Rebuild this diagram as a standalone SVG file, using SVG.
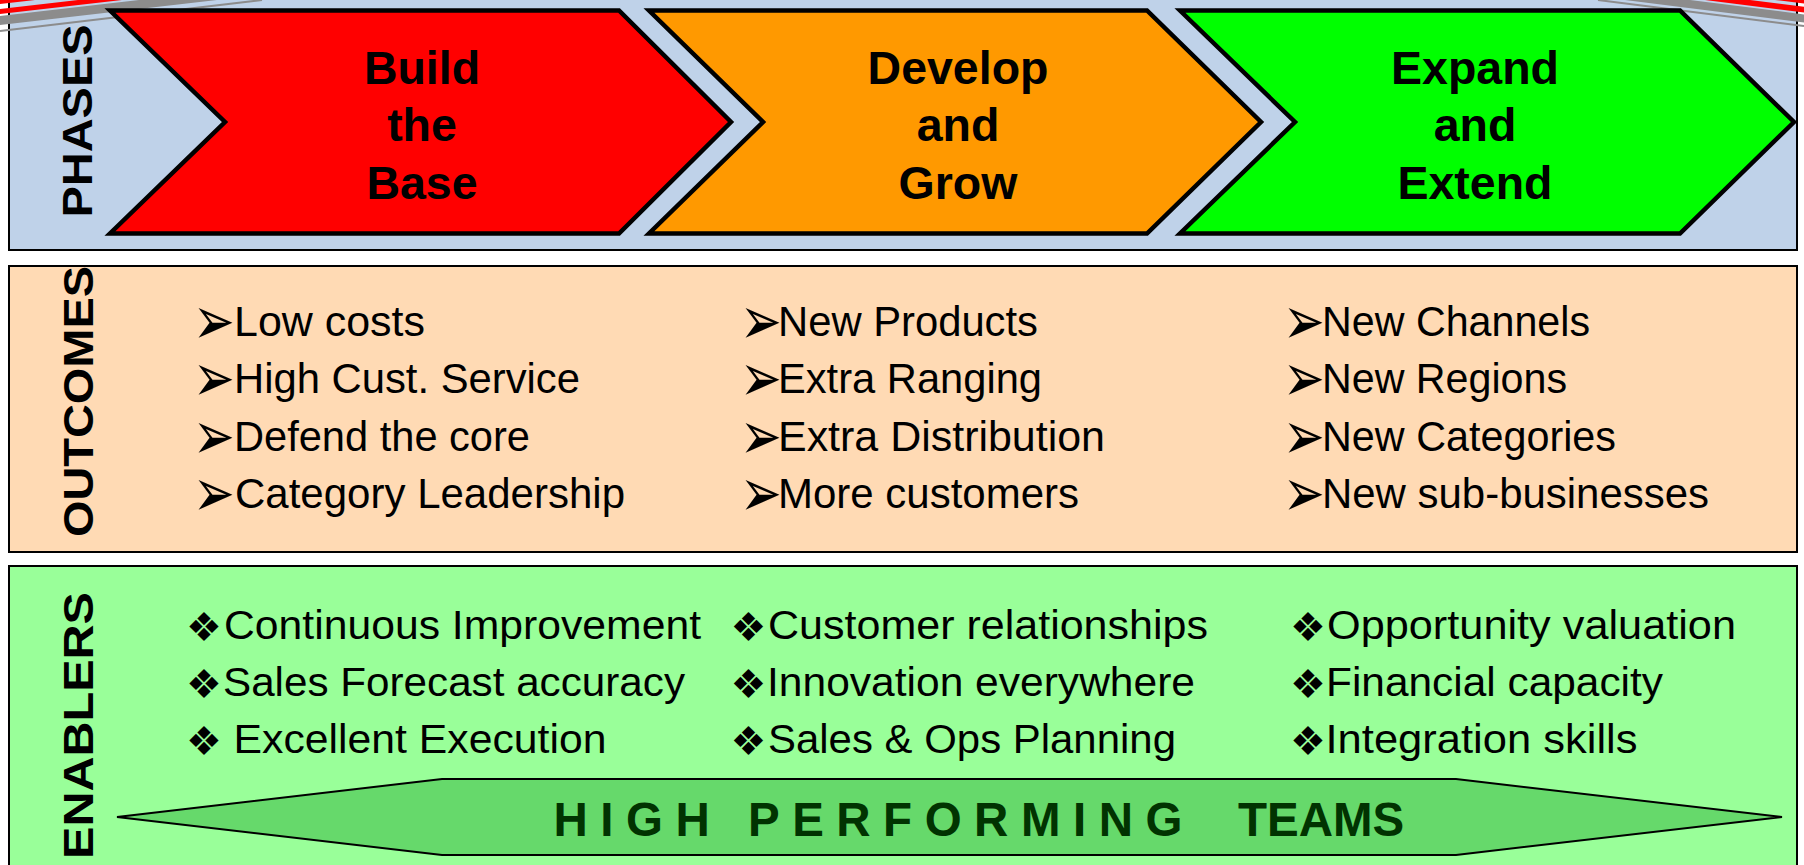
<svg xmlns="http://www.w3.org/2000/svg" width="1804" height="865" viewBox="0 0 1804 865">
  <style>
    .panel { stroke: #000; stroke-width: 2; }
    .chev { stroke: #000; stroke-width: 4.5; stroke-linejoin: miter; }
    .phase { font-family: "Liberation Sans", Arial, sans-serif; font-weight: bold; font-size: 46.5px; text-anchor: middle; fill: #000; }
    .side { font-family: "Liberation Sans", Arial, sans-serif; font-weight: bold; font-size: 43px; text-anchor: middle; fill: #000; }
    .out { font-family: "Liberation Sans", Arial, sans-serif; font-size: 43px; fill: #000; }
    .en { font-family: "Liberation Sans", Arial, sans-serif; font-size: 41px; fill: #000; }
    .arrow { font-family: "DejaVu Sans", sans-serif; font-size: 50px; text-anchor: middle; fill: #000; }
    .dia { font-family: "DejaVu Sans", sans-serif; font-size: 40px; text-anchor: middle; fill: #000; }
    .team { font-family: "Liberation Sans", Arial, sans-serif; font-weight: bold; font-size: 47.5px; fill: #013301; }
  </style>
  <defs>
    <!-- list bullet, centred on its origin -->
    <text id="arrow-bullet" class="arrow" x="0" y="18" transform="scale(1,1.35)">➢</text>
  </defs>

  <rect width="1804" height="865" fill="#ffffff"/>

  <!-- band backgrounds -->
  <g id="phases-panel">
    <rect class="panel" x="9" y="-1" width="1788" height="251" fill="#BFD2E9"/>
    <text class="side" transform="translate(92,121) rotate(-90)" textLength="193" lengthAdjust="spacingAndGlyphs">PHASES</text>
  </g>

  <g id="outcomes-panel">
    <rect class="panel" x="9" y="266" width="1788" height="286" fill="#FFDAB4"/>
    <text class="side" transform="translate(93,401.5) rotate(-90)" textLength="271" lengthAdjust="spacingAndGlyphs">OUTCOMES</text>
  </g>

  <g id="enablers-panel">
    <rect class="panel" x="9" y="566" width="1788" height="310" fill="#99FF99"/>
    <text class="side" transform="translate(93,725.5) rotate(-90)" textLength="267" lengthAdjust="spacingAndGlyphs">ENABLERS</text>
  </g>

  <!-- slide corner decoration -->
  <g id="corner-stripes">
    <polygon points="0,16 0,25 217,0 139,0" fill="#8c8c8c"/>
    <line x1="0" y1="31" x2="262" y2="0" stroke="#8c8c8c" stroke-width="2"/>
    <polygon points="0,9 0,14 122,0 78,0" fill="#ff0000"/>
    <polygon points="0,0 0,4 35,0" fill="#ff0000"/>
    <polygon points="1625,0 1690,0 1804,14.4 1804,22.4" fill="#8c8c8c"/>
    <line x1="1598" y1="0" x2="1804" y2="26" stroke="#8c8c8c" stroke-width="2"/>
    <polygon points="1705,0 1750,0 1804,6.8 1804,12.4" fill="#ff0000"/>
    <polygon points="1775,0 1804,0 1804,3.6" fill="#ff0000"/>
  </g>

  <!-- phase chevrons -->
  <g id="phase-build">
    <polygon class="chev" fill="#FF0000" points="110,10.5 619,10.5 731,122 619,233.5 110,233.5 225,122"/>
    <text class="phase" x="422" y="83.5">Build</text>
    <text class="phase" x="422" y="141">the</text>
    <text class="phase" x="422" y="198.5">Base</text>
  </g>

  <g id="phase-develop">
    <polygon class="chev" fill="#FF9900" points="649,10.5 1147,10.5 1261,122 1147,233.5 649,233.5 763,122"/>
    <text class="phase" x="958" y="83.5">Develop</text>
    <text class="phase" x="958" y="141">and</text>
    <text class="phase" x="958" y="198.5">Grow</text>
  </g>

  <g id="phase-expand">
    <polygon class="chev" fill="#00FF00" points="1180,10.5 1680,10.5 1794,122 1680,233.5 1180,233.5 1295,122"/>
    <text class="phase" x="1475" y="83.5">Expand</text>
    <text class="phase" x="1475" y="141">and</text>
    <text class="phase" x="1475" y="198.5">Extend</text>
  </g>

  <!-- outcome lists -->
  <g id="outcomes-base">
    <use href="#arrow-bullet" x="214" y="320"/>
    <use href="#arrow-bullet" x="214" y="377"/>
    <use href="#arrow-bullet" x="214" y="435"/>
    <use href="#arrow-bullet" x="214" y="492"/>
    <text class="out" x="234" y="336" textLength="191" lengthAdjust="spacingAndGlyphs">Low costs</text>
    <text class="out" x="234" y="393" textLength="346" lengthAdjust="spacingAndGlyphs">High Cust. Service</text>
    <text class="out" x="234" y="451" textLength="296" lengthAdjust="spacingAndGlyphs">Defend the core</text>
    <text class="out" x="235" y="508" textLength="390" lengthAdjust="spacingAndGlyphs">Category Leadership</text>
  </g>

  <g id="outcomes-grow">
    <use href="#arrow-bullet" x="761" y="320"/>
    <use href="#arrow-bullet" x="761" y="377"/>
    <use href="#arrow-bullet" x="761" y="435"/>
    <use href="#arrow-bullet" x="761" y="492"/>
    <text class="out" x="778" y="336" textLength="260" lengthAdjust="spacingAndGlyphs">New Products</text>
    <text class="out" x="778" y="393" textLength="264" lengthAdjust="spacingAndGlyphs">Extra Ranging</text>
    <text class="out" x="778" y="451" textLength="327" lengthAdjust="spacingAndGlyphs">Extra Distribution</text>
    <text class="out" x="778" y="508" textLength="301" lengthAdjust="spacingAndGlyphs">More customers</text>
  </g>

  <g id="outcomes-extend">
    <use href="#arrow-bullet" x="1304" y="320"/>
    <use href="#arrow-bullet" x="1304" y="377"/>
    <use href="#arrow-bullet" x="1304" y="435"/>
    <use href="#arrow-bullet" x="1304" y="492"/>
    <text class="out" x="1322" y="336" textLength="268" lengthAdjust="spacingAndGlyphs">New Channels</text>
    <text class="out" x="1322" y="393" textLength="245" lengthAdjust="spacingAndGlyphs">New Regions</text>
    <text class="out" x="1322" y="451" textLength="294" lengthAdjust="spacingAndGlyphs">New Categories</text>
    <text class="out" x="1322" y="508" textLength="387" lengthAdjust="spacingAndGlyphs">New sub-businesses</text>
  </g>

  <!-- enabler lists -->
  <g id="enablers-base">
    <text class="dia" x="204" y="640.5">❖</text>
    <text class="dia" x="204" y="697.5">❖</text>
    <text class="dia" x="204" y="754.5">❖</text>
    <text class="en" x="224" y="639" textLength="477" lengthAdjust="spacingAndGlyphs">Continuous Improvement</text>
    <text class="en" x="223" y="696" textLength="462" lengthAdjust="spacingAndGlyphs">Sales Forecast accuracy</text>
    <text class="en" x="233.5" y="753" textLength="373" lengthAdjust="spacingAndGlyphs">Excellent Execution</text>
  </g>

  <g id="enablers-grow">
    <text class="dia" x="748.5" y="640.5">❖</text>
    <text class="dia" x="748.5" y="697.5">❖</text>
    <text class="dia" x="748.5" y="754.5">❖</text>
    <text class="en" x="768" y="639" textLength="440" lengthAdjust="spacingAndGlyphs">Customer relationships</text>
    <text class="en" x="767" y="696" textLength="428" lengthAdjust="spacingAndGlyphs">Innovation everywhere</text>
    <text class="en" x="768" y="753" textLength="408" lengthAdjust="spacingAndGlyphs">Sales &amp; Ops Planning</text>
  </g>

  <g id="enablers-extend">
    <text class="dia" x="1308" y="640.5">❖</text>
    <text class="dia" x="1308" y="697.5">❖</text>
    <text class="dia" x="1308" y="754.5">❖</text>
    <text class="en" x="1327" y="639" textLength="409" lengthAdjust="spacingAndGlyphs">Opportunity valuation</text>
    <text class="en" x="1326" y="696" textLength="337" lengthAdjust="spacingAndGlyphs">Financial capacity</text>
    <text class="en" x="1325.5" y="753" textLength="312" lengthAdjust="spacingAndGlyphs">Integration skills</text>
  </g>

  <!-- team banner -->
  <g id="high-performing-teams">
    <polygon points="117,817 442,779 1456,779 1782,817 1456,855 442,855" fill="#66D96B" stroke="#000" stroke-width="2"/>
    <text class="team" x="553.5" y="836" letter-spacing="12.5">HIGH PERFORMING</text>
    <text class="team" x="1238" y="836">TEAMS</text>
  </g>

  <g id="connectors"/>
</svg>
